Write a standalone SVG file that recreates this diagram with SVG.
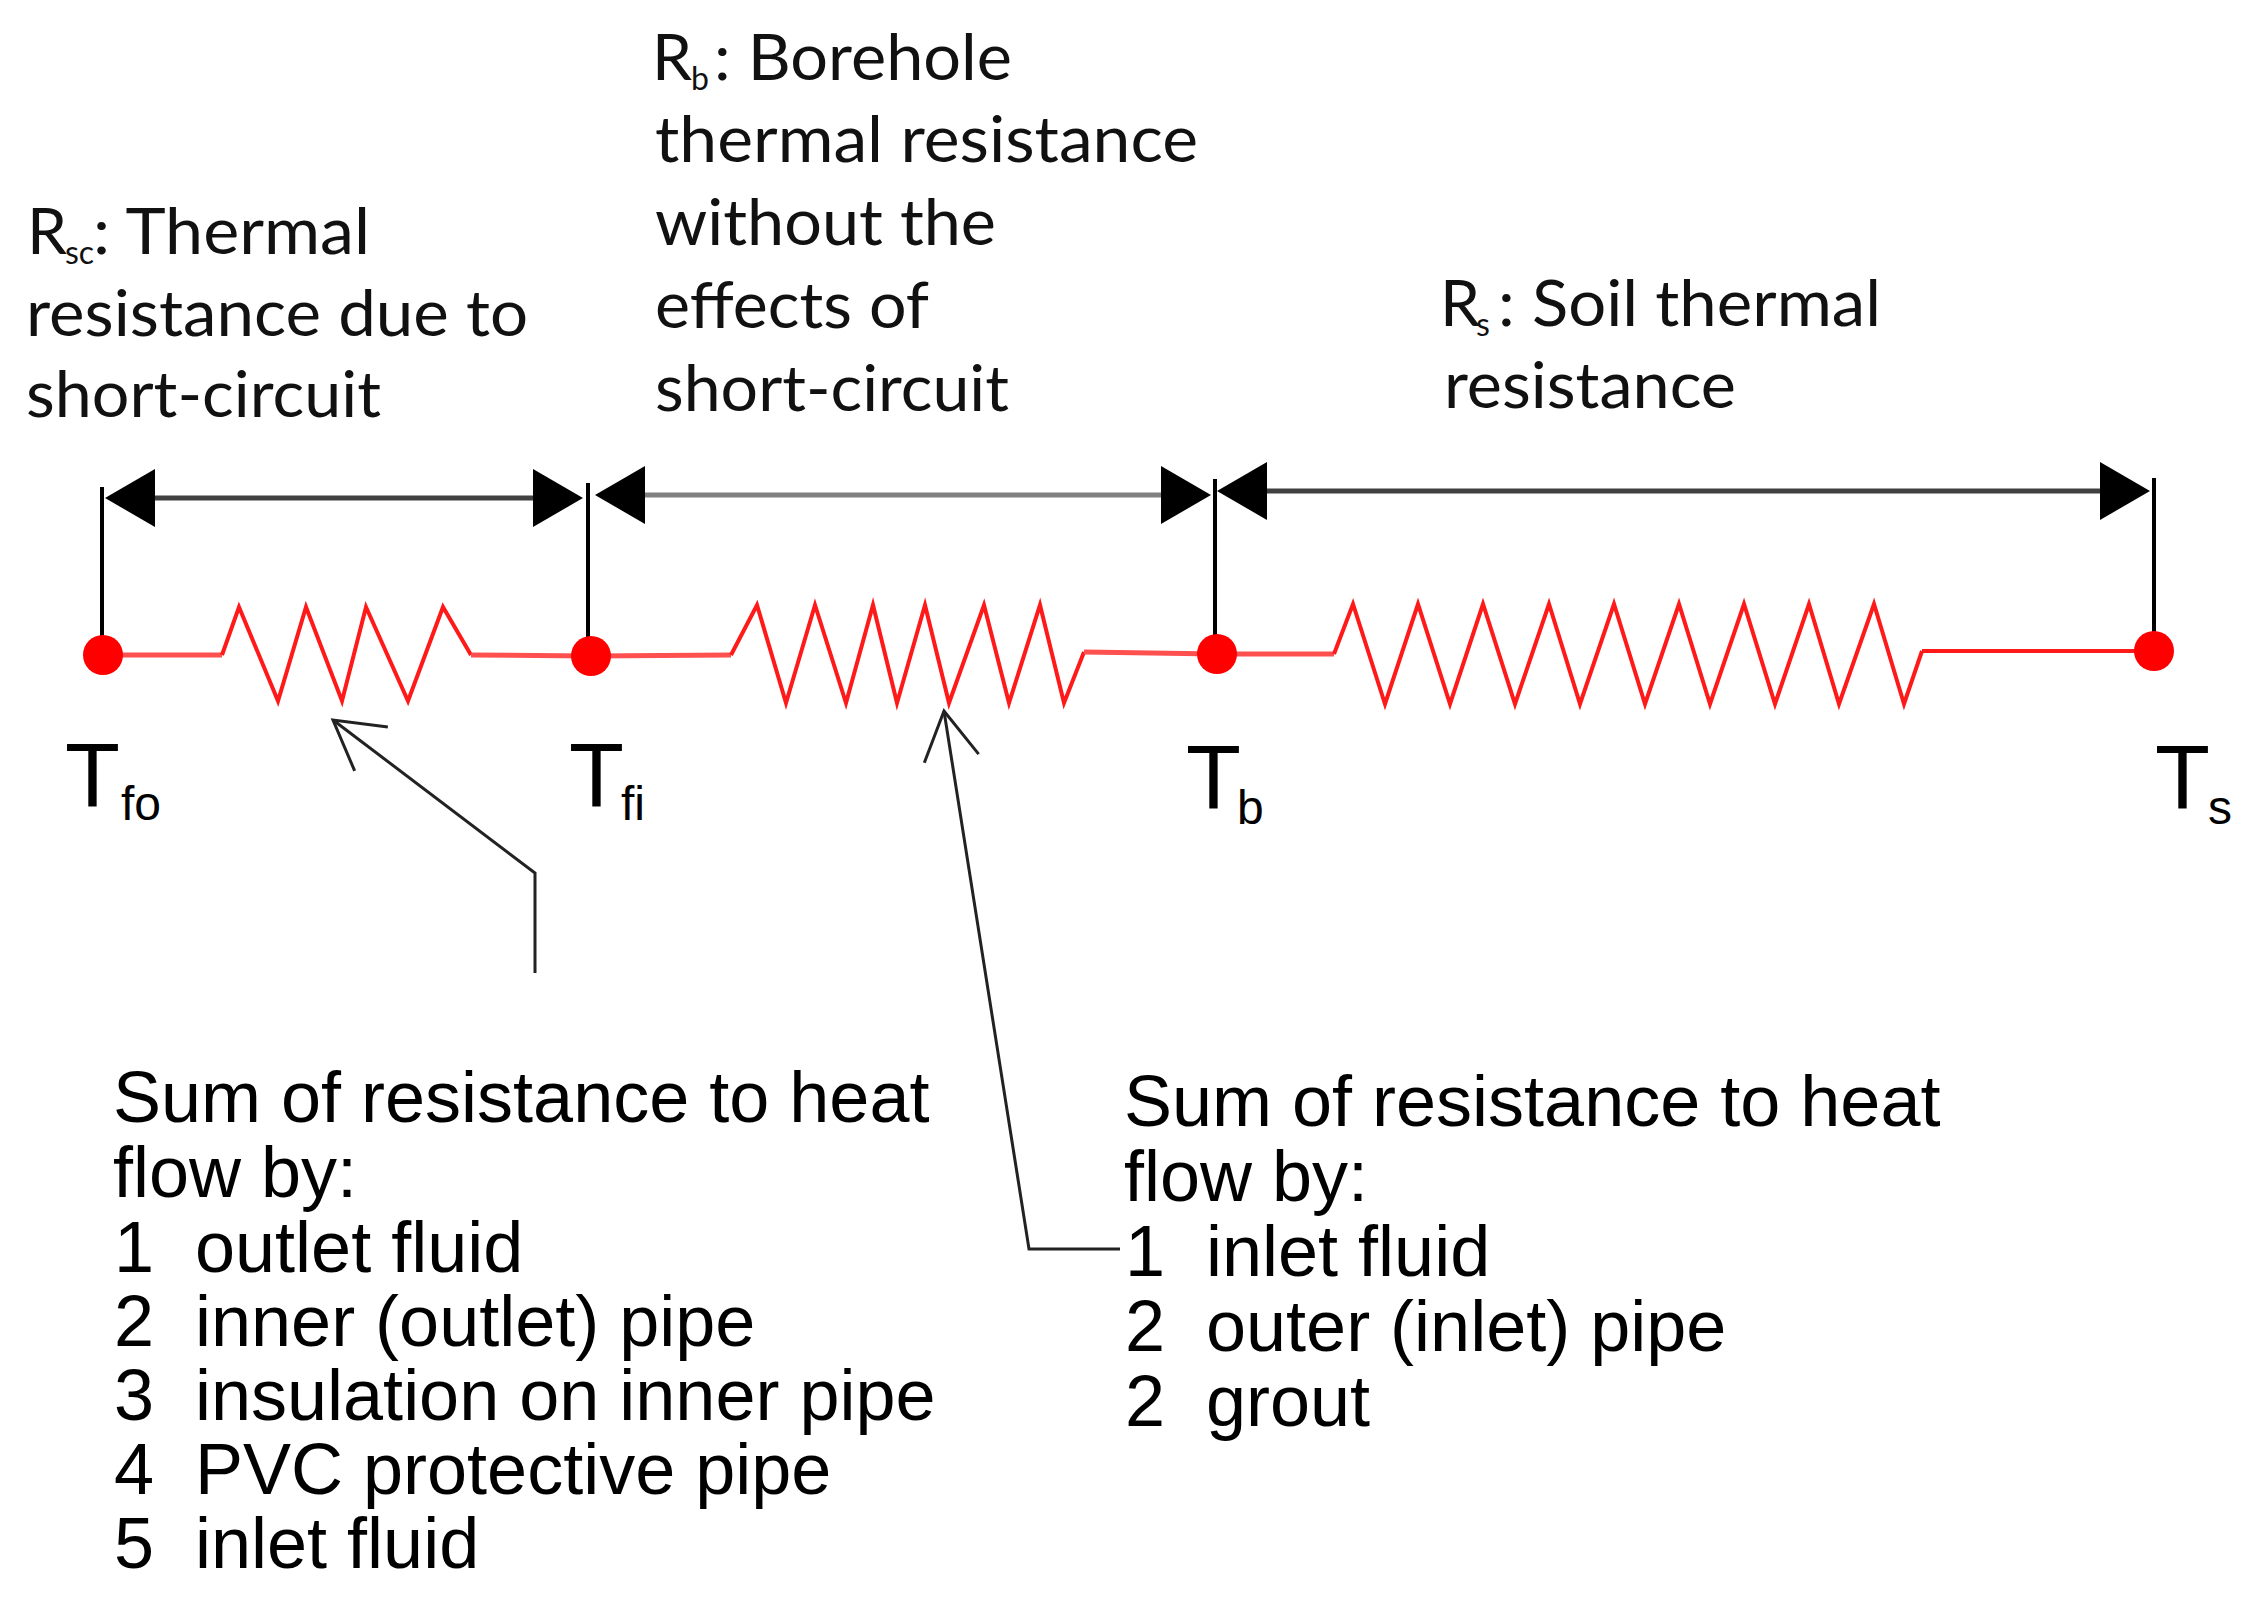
<svg xmlns="http://www.w3.org/2000/svg" width="2248" height="1615" viewBox="0 0 2248 1615">
<style>
.top{font-family:Lato,"Open Sans","Liberation Sans",sans-serif;font-size:64px;fill:#111}
.sub{font-family:Lato,"Open Sans","Liberation Sans",sans-serif;font-size:32px;fill:#111}
.low{font-family:"Liberation Sans",Arial,sans-serif;font-size:72px;fill:#000}
.tl{font-family:"Liberation Sans",Arial,sans-serif;font-size:90px;fill:#000}
.ts{font-family:"Liberation Sans",Arial,sans-serif;font-size:48px;fill:#000}
.wire{fill:none;stroke:#ff5050;stroke-width:5}
.zig{fill:none;stroke:#ff1a1a;stroke-width:4;stroke-linejoin:miter}
.dot{fill:#ff0000}
.tick{stroke:#000;stroke-width:4}
.dim{stroke-width:5;fill:none}
.ptr{fill:none;stroke:#222;stroke-width:3}
</style>
<defs>
<marker id="headR" markerUnits="userSpaceOnUse" viewBox="0 -30 52 60" markerWidth="52" markerHeight="60" refX="0" refY="0" orient="0">
<path d="M0,-29 L50,0 L0,29 Z" fill="#000"/>
</marker>
<marker id="headL" markerUnits="userSpaceOnUse" viewBox="-52 -30 52 60" markerWidth="52" markerHeight="60" refX="0" refY="0" orient="0">
<path d="M0,-29 L-50,0 L0,29 Z" fill="#000"/>
</marker>
<marker id="open" markerUnits="userSpaceOnUse" viewBox="-52 -30 56 60" markerWidth="56" markerHeight="60" refX="0" refY="0" orient="auto" overflow="visible">
<path d="M-48,-27.5 L0,0 L-48,27.5" fill="none" stroke="#222" stroke-width="3"/>
</marker>
</defs>
<rect width="2248" height="1615" fill="#fff"/>

<g id="labels-top">
<g id="label-Rsc">
<text class="top" x="27" y="254">R</text>
<text class="sub" x="65" y="264">sc</text>
<text class="top" x="93" y="254" textLength="277" lengthAdjust="spacingAndGlyphs">: Thermal</text>
<text class="top" x="26" y="336" textLength="502" lengthAdjust="spacingAndGlyphs">resistance due to</text>
<text class="top" x="26" y="417" textLength="355" lengthAdjust="spacingAndGlyphs">short-circuit</text>
</g>
<g id="label-Rb">
<text class="top" x="652" y="80">R</text>
<text class="sub" x="691" y="90">b</text>
<text class="top" x="714" y="80" textLength="298" lengthAdjust="spacingAndGlyphs">: Borehole</text>
<text class="top" x="655" y="162" textLength="543" lengthAdjust="spacingAndGlyphs">thermal resistance</text>
<text class="top" x="655" y="245" textLength="341" lengthAdjust="spacingAndGlyphs">without the</text>
<text class="top" x="655" y="328" textLength="274" lengthAdjust="spacingAndGlyphs">effects of</text>
<text class="top" x="655" y="411" textLength="354" lengthAdjust="spacingAndGlyphs">short-circuit</text>
</g>
<g id="label-Rs">
<text class="top" x="1440" y="326">R</text>
<text class="sub" x="1476" y="336">s</text>
<text class="top" x="1498" y="326" textLength="383" lengthAdjust="spacingAndGlyphs">: Soil thermal</text>
<text class="top" x="1444" y="408" textLength="292" lengthAdjust="spacingAndGlyphs">resistance</text>
</g>
</g>

<g id="resistors">
<g id="res-sc">
<polyline class="wire" points="103,655 222,655"/>
<polyline class="zig" points="222,655 239,607 278,701 306,607 342,701 366,607 408,701 443,607 471,655"/>
<polyline class="wire" points="471,655 591,656"/>
</g>
<g id="res-b">
<polyline class="wire" points="591,656 731,655"/>
<polyline class="zig" points="731,655 757,605 786,703 815,605 846,703 873,605 897,703 925,605 949,703 984,605 1009,703 1040,605 1064,703 1084,652"/>
<polyline class="wire" points="1084,652 1217,654"/>
</g>
<g id="res-s">
<polyline class="wire" points="1217,654 1334,654"/>
<polyline class="zig" points="1334,654 1353,604 1385,704 1418,604 1450,704 1483,604 1515,704 1549,604 1580,704 1614,604 1645,704 1679,604 1710,704 1744,604 1775,704 1809,604 1839,704 1874,604 1904,704 1922,651"/>
<polyline class="zig" points="1922,651 2154,651"/>
</g>
</g>

<g id="node-Tfo">
<line class="tick" x1="102" y1="487" x2="102" y2="655" stroke="#555"/>
<circle class="dot" cx="103" cy="655" r="20"/>
<text class="tl" x="65" y="807">T</text>
<text class="ts" x="121" y="820">fo</text>
</g>
<g id="node-Tfi">
<line class="tick" x1="588" y1="483" x2="588" y2="655"/>
<circle class="dot" cx="591" cy="656" r="20"/>
<text class="tl" x="569" y="807">T</text>
<text class="ts" x="621" y="820">fi</text>
</g>
<g id="node-Tb">
<line class="tick" x1="1215" y1="479" x2="1215" y2="654" stroke-width="5"/>
<circle class="dot" cx="1217" cy="654" r="20"/>
<text class="tl" x="1186" y="809">T</text>
<text class="ts" x="1237" y="824">b</text>
</g>
<g id="node-Ts">
<line class="tick" x1="2154" y1="478" x2="2154" y2="651"/>
<circle class="dot" cx="2154" cy="651" r="20"/>
<text class="tl" x="2155" y="809">T</text>
<text class="ts" x="2208" y="824">s</text>
</g>

<g id="connectors">
<line class="dim" x1="155" y1="498" x2="533" y2="498" stroke="#404040" marker-start="url(#headL)" marker-end="url(#headR)"/>
<line class="dim" x1="645" y1="495" x2="1161" y2="495" stroke="#808080" marker-start="url(#headL)" marker-end="url(#headR)"/>
<line class="dim" x1="1267" y1="491" x2="2100" y2="491" stroke="#404040" marker-start="url(#headL)" marker-end="url(#headR)"/>
<polyline class="ptr" points="535,973 535,873 333,720" marker-end="url(#open)"/>
<polyline class="ptr" points="1120,1249 1029,1249 944,711" marker-end="url(#open)"/>
</g>

<g id="note-left">
<text class="low" x="113" y="1122">Sum of resistance to heat</text>
<text class="low" x="113" y="1197">flow by:</text>
<text class="low" x="114" y="1272">1</text><text class="low" x="195" y="1272">outlet fluid</text>
<text class="low" x="114" y="1346">2</text><text class="low" x="195" y="1346">inner (outlet) pipe</text>
<text class="low" x="114" y="1420">3</text><text class="low" x="195" y="1420">insulation on inner pipe</text>
<text class="low" x="114" y="1494">4</text><text class="low" x="195" y="1494">PVC protective pipe</text>
<text class="low" x="114" y="1568">5</text><text class="low" x="195" y="1568">inlet fluid</text>
</g>
<g id="note-right">
<text class="low" x="1124" y="1126">Sum of resistance to heat</text>
<text class="low" x="1124" y="1201">flow by:</text>
<text class="low" x="1125" y="1276">1</text><text class="low" x="1206" y="1276">inlet fluid</text>
<text class="low" x="1125" y="1351">2</text><text class="low" x="1206" y="1351">outer (inlet) pipe</text>
<text class="low" x="1125" y="1426">2</text><text class="low" x="1206" y="1426">grout</text>
</g>
</svg>
